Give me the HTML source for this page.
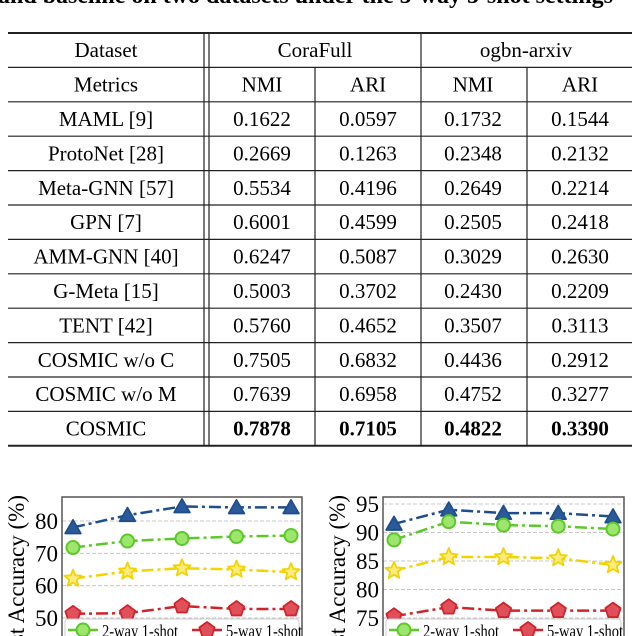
<!DOCTYPE html>
<html><head><meta charset="utf-8"><style>
html,body{margin:0;padding:0;background:#fff;overflow:hidden;}
svg{display:block;font-family:"Liberation Serif",serif;overflow:hidden;}
</style></head><body>
<svg id="root" width="640" height="636" viewBox="0 0 640 636">
<text x="-2" y="3" font-size="24" font-weight="bold">and baseline on two datasets under the 5-way 5-shot settings</text>
<g id="table"></g>
<g id="chart1"></g>
<g id="chart2"></g>
</svg>
<script>
const NS='http://www.w3.org/2000/svg';
function mk(p,t,a,txt){const e=document.createElementNS(NS,t);for(const k in a)e.setAttribute(k,a[k]);if(txt!==undefined)e.textContent=txt;p.appendChild(e);return e;}

// ---- table data ----
const methods=['MAML [9]','ProtoNet [28]','Meta-GNN [57]','GPN [7]','AMM-GNN [40]','G-Meta [15]','TENT [42]','COSMIC w/o C','COSMIC w/o M','COSMIC'];
const coraNMI=['0.1622','0.2669','0.5534','0.6001','0.6247','0.5003','0.5760','0.7505','0.7639','0.7878'];
const coraARI=['0.0597','0.1263','0.4196','0.4599','0.5087','0.3702','0.4652','0.6832','0.6958','0.7105'];
const arxNMI=['0.1732','0.2348','0.2649','0.2505','0.3029','0.2430','0.3507','0.4436','0.4752','0.4822'];
const arxARI=['0.1544','0.2132','0.2214','0.2418','0.2630','0.2209','0.3113','0.2912','0.3277','0.3390'];

const T=document.getElementById('table');
const top0=33, rh=34.4, L=8, R=632;
const colC=[106,262,368,473,580];
function hl(y,w){const l=mk(T,'line',{x1:L,x2:R,y1:y,y2:y,stroke:'#222','stroke-width':w});

}
for(let i=0;i<=12;i++){hl(top0+i*rh,(i===0||i===12)?2:1.2);}
function vl(x,y1,y2){const l=mk(T,'line',{x1:x,x2:x,y1:y1,y2:y2,stroke:'#222','stroke-width':1.2});

}
vl(204,top0,top0+12*rh);vl(209,top0,top0+12*rh);vl(421,top0,top0+12*rh);
vl(315,top0+rh,top0+12*rh);vl(527,top0+rh,top0+12*rh);
function cell(x,y,s,b,name){const t=mk(T,'text',{x:x,y:y,'text-anchor':'middle','font-size':21,'font-weight':b?'bold':'normal'},s);

}
function rowY(i){return top0+i*rh+rh/2+7;}
cell(106,rowY(0),'Dataset',false,'header-dataset');
cell(315,rowY(0),'CoraFull',false,'header-corafull');
cell(526,rowY(0),'ogbn-arxiv',false,'header-ogbn-arxiv');
cell(106,rowY(1),'Metrics',false,'header-metrics');
['NMI','ARI','NMI','ARI'].forEach((s,j)=>cell(colC[j+1],rowY(1),s,false,'header-'+s.toLowerCase()));
methods.forEach((m,i)=>{const b=i===methods.length-1;const y=rowY(i+2);
cell(106,y,m,false,'method-name');
cell(colC[1],y,coraNMI[i],b,'cora-nmi-value');
cell(colC[2],y,coraARI[i],b,'cora-ari-value');
cell(colC[3],y,arxNMI[i],b,'arxiv-nmi-value');
cell(colC[4],y,arxARI[i],b,'arxiv-ari-value');});

// ---- chart data ----
const xCats=[1,2,3,4,5];
const c1Ticks=[50,60,70,80];
const c1Blue=[78.0,81.8,84.5,84.2,84.2];
const c1Green=[71.8,73.8,74.6,75.2,75.5];
const c1Yellow=[62.2,64.4,65.4,65.0,64.2];
const c1Red=[51.3,51.5,53.7,52.8,52.8];
const c2Ticks=[75,80,85,90,95];
const c2Blue=[91.5,94.0,93.4,93.4,92.8];
const c2Green=[88.7,91.9,91.3,91.1,90.6];
const c2Yellow=[83.3,85.7,85.7,85.5,84.3];
const c2Red=[75.3,76.9,76.3,76.3,76.3];

function marker(g,shape,x,y,face,edge){
 let e;
 if(shape==='circle'){e=mk(g,'circle',{cx:x,cy:y,r:6.5,fill:face,stroke:edge,'stroke-width':2});}
 else{let pts=[];
  if(shape==='tri'){const r=9;for(let k=0;k<3;k++){const a=-Math.PI/2+k*2*Math.PI/3;pts.push([x+r*Math.cos(a),y+r*Math.sin(a)+1.5]);}}
  if(shape==='pent'){const r=8;for(let k=0;k<5;k++){const a=-Math.PI/2+k*2*Math.PI/5;pts.push([x+r*Math.cos(a),y+r*Math.sin(a)]);}}
  if(shape==='star'){for(let k=0;k<10;k++){const r=k%2?4:9;const a=-Math.PI/2+k*Math.PI/5;pts.push([x+r*Math.cos(a),y+r*Math.sin(a)]);}}
  e=mk(g,'polygon',{points:pts.map(p=>p.join(',')).join(' '),fill:face,stroke:edge,'stroke-width':1.8,'stroke-linejoin':'round'});}
 return e;}

function chart(id,box,yMin,yMax,ticks,series){
 const g=document.getElementById(id);
 const sx=i=>box.x0+box.pad+(i-1)*(box.x1-box.x0-2*box.pad)/4;
 const sy=v=>box.yb-(v-yMin)/(yMax-yMin)*(box.yb-box.yt);
 ticks.forEach(t=>{const y=sy(t);
  const gl=mk(g,'line',{x1:box.x0,x2:box.x1,y1:y,y2:y,stroke:'#c8c8c8','stroke-width':1,'stroke-dasharray':'4,2'});
  
  
  const tl=mk(g,'text',{x:box.x0-4,y:y+8,'text-anchor':'end','font-size':23},String(t));
  
  });
 const fr=mk(g,'rect',{x:box.x0,y:box.yt0,width:box.x1-box.x0,height:150,fill:'none',stroke:'#555','stroke-width':1.5});
 
 
 const yl=mk(g,'text',{transform:`translate(${box.lx},495) rotate(-90)`,'text-anchor':'end','font-size':23},'Test Accuracy (%)');
 
 
 series.forEach(s=>{
  const p=mk(g,'polyline',{points:s.v.map((v,i)=>sx(xCats[i])+','+sy(v)).join(' '),fill:'none',stroke:s.c,'stroke-width':2.5,'stroke-dasharray':'12,4,3,4'});
  
  
  s.v.forEach((v,i)=>{const m=marker(g,s.sh,sx(xCats[i]),sy(v),s.f,s.c);
   
   });});
 // legend
 const lx=box.x0+3;
 const lb=mk(g,'rect',{x:lx,y:619,width:box.x1-box.x0-6,height:20,fill:'#fff',stroke:'#ccc','stroke-width':1,rx:3});
 
 
 const items=[{c:'#5cc92a',f:'#9ee56e',sh:'circle',t:'2-way 1-shot',x:lx+3},{c:'#d0242b',f:'#e0505a',sh:'pent',t:'5-way 1-shot',x:lx+127}];
 items.forEach(it=>{
  const ln=mk(g,'line',{x1:it.x,x2:it.x+30,y1:630,y2:630,stroke:it.c,'stroke-width':2.5});
  
  
  const m=marker(g,it.sh,it.x+15,630,it.f,it.c);
  
  
  const tx=mk(g,'text',{x:it.x+34,y:637,'font-size':18,textLength:76,lengthAdjust:'spacingAndGlyphs'},it.t);
  
  });
}
const blue='#1f4e8c',green='#5cc92a',yellow='#f2d400',red='#d0242b';
chart('chart1',{x0:62,x1:302,pad:11,yt0:497,yt:521,yb:618,lx:24},50,80,c1Ticks,[
 {n:'blue',v:c1Blue,c:blue,f:'#2a5a9a',sh:'tri'},
 {n:'green',v:c1Green,c:green,f:'#9ee56e',sh:'circle'},
 {n:'yellow',v:c1Yellow,c:yellow,f:'#fbeb80',sh:'star'},
 {n:'red',v:c1Red,c:red,f:'#e0505a',sh:'pent'}]);
chart('chart2',{x0:383,x1:624,pad:11,yt0:497,yt:504,yb:618,lx:345},75,95,c2Ticks,[
 {n:'blue',v:c2Blue,c:blue,f:'#2a5a9a',sh:'tri'},
 {n:'green',v:c2Green,c:green,f:'#9ee56e',sh:'circle'},
 {n:'yellow',v:c2Yellow,c:yellow,f:'#fbeb80',sh:'star'},
 {n:'red',v:c2Red,c:red,f:'#e0505a',sh:'pent'}]);
</script>
</body></html>
